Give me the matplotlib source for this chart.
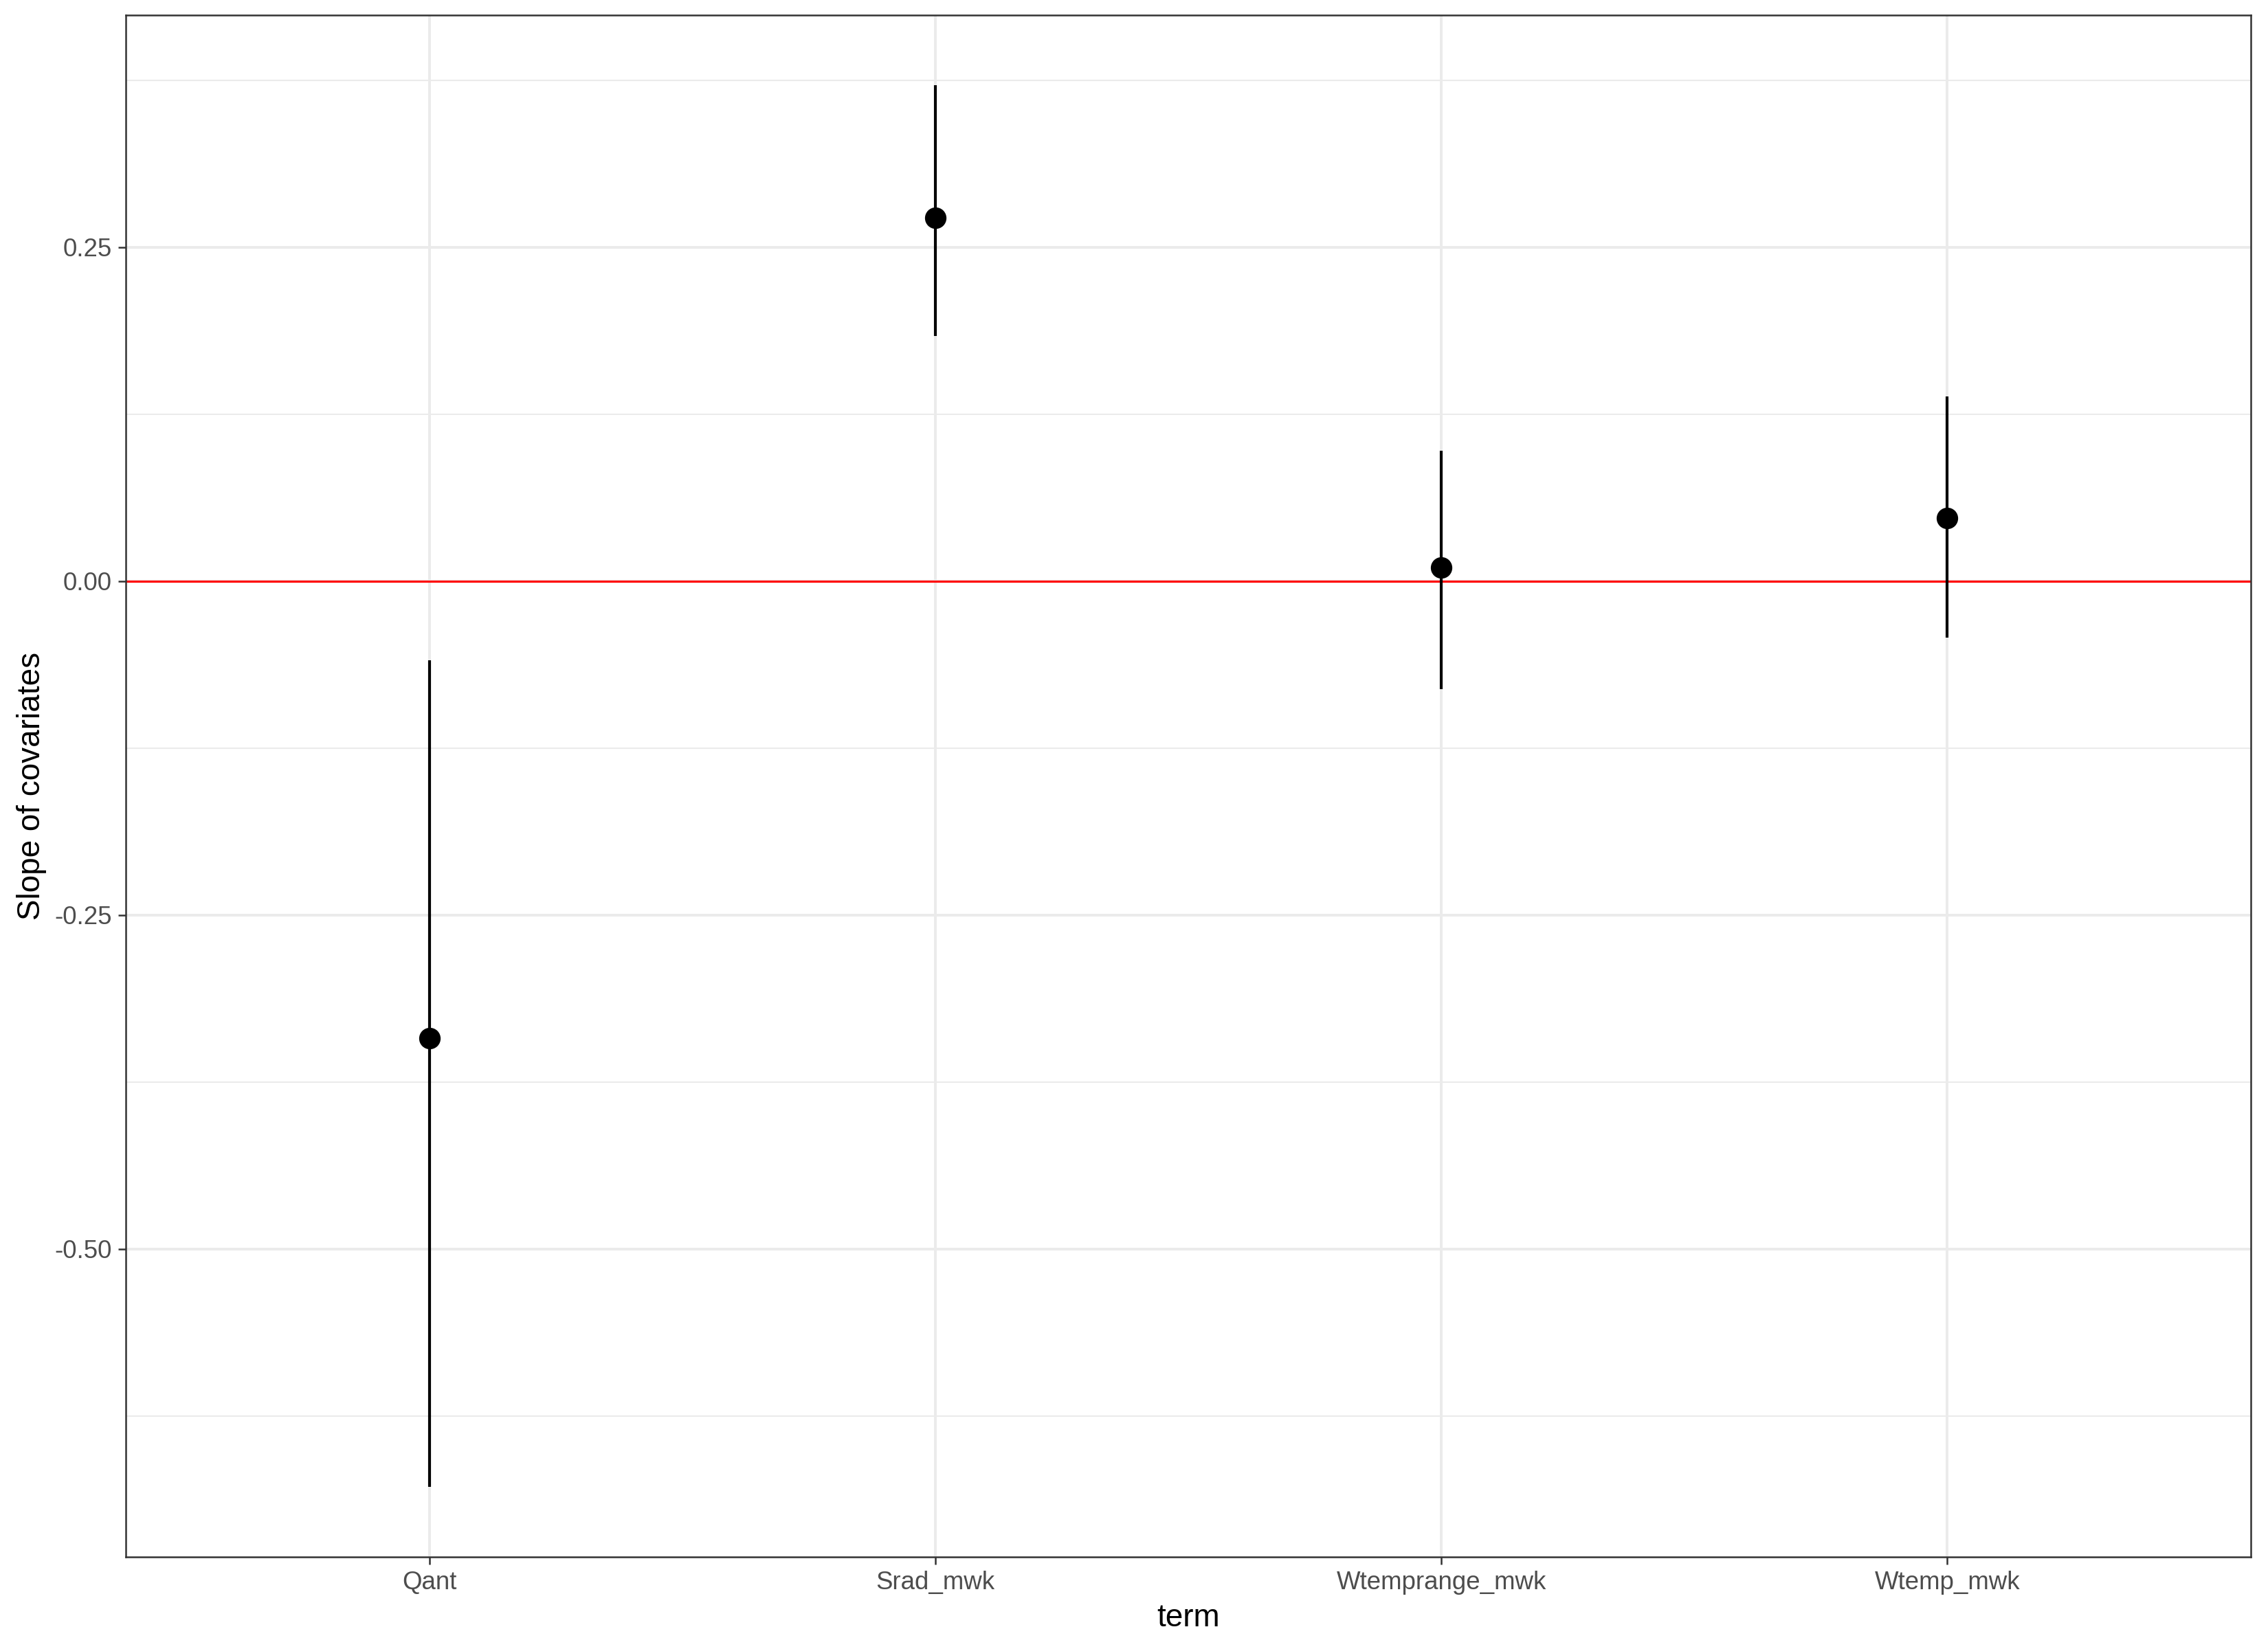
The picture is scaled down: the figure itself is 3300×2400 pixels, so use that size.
import matplotlib
matplotlib.use("Agg")
import matplotlib.pyplot as plt
from matplotlib.ticker import FixedLocator

terms = ["Qant", "Srad_mwk", "Wtemprange_mwk", "Wtemp_mwk"]
estimate = [-0.3425, 0.2718, 0.0100, 0.0470]
conf_low = [-0.678, 0.1835, -0.0812, -0.0425]
conf_high = [-0.0595, 0.371, 0.0976, 0.1382]

y_major = [-0.50, -0.25, 0.00, 0.25]
y_major_labels = ["-0.50", "-0.25", "0.00", "0.25"]
y_minor = [-0.625, -0.375, -0.125, 0.125, 0.375]

plt.rcParams['font.family'] = ['Liberation Sans', 'DejaVu Sans']

fig = plt.figure(figsize=(11, 8), dpi=300)
ax = fig.add_axes([0.0555, 0.056, 0.9924 - 0.0555, 0.9907 - 0.056])

x = list(range(1, len(terms) + 1))

# grid
ax.set_axisbelow(True)
for v in y_minor:
    ax.axhline(v, color="#EBEBEB", lw=0.5, zorder=0)
for v in y_major:
    ax.axhline(v, color="#EBEBEB", lw=0.95, zorder=0)
for xi in x:
    ax.axvline(xi, color="#EBEBEB", lw=0.95, zorder=0)

ax.axhline(0, color="#FF0000", lw=0.75, zorder=2)

ax.vlines(x, conf_low, conf_high, color="black", lw=1.0, zorder=3)
ax.plot(x, estimate, "o", color="black", markersize=6.5, zorder=4)

ax.set_xlim(0.4, 4.6)
lo = min(conf_low); hi = max(conf_high)
rng = hi - lo
ax.set_ylim(lo - 0.05 * rng, hi + 0.05 * rng)

ax.set_xticks(x)
ax.set_xticklabels(terms)
ax.yaxis.set_major_locator(FixedLocator(y_major))
ax.set_yticklabels(y_major_labels)

ax.tick_params(axis="both", which="major", length=2.75 * 1.0, width=0.6,
               color="#333333", labelcolor="#4D4D4D", labelsize=8.8, pad=2.2)

for s in ax.spines.values():
    s.set_color("#333333")
    s.set_linewidth(0.6)

ax.set_xlabel("term", fontsize=11, color="black", labelpad=2.75)
ax.set_ylabel("Slope of covariates", fontsize=11, color="black", labelpad=2.75)

fig.savefig("out.png", dpi=300, facecolor="white")
